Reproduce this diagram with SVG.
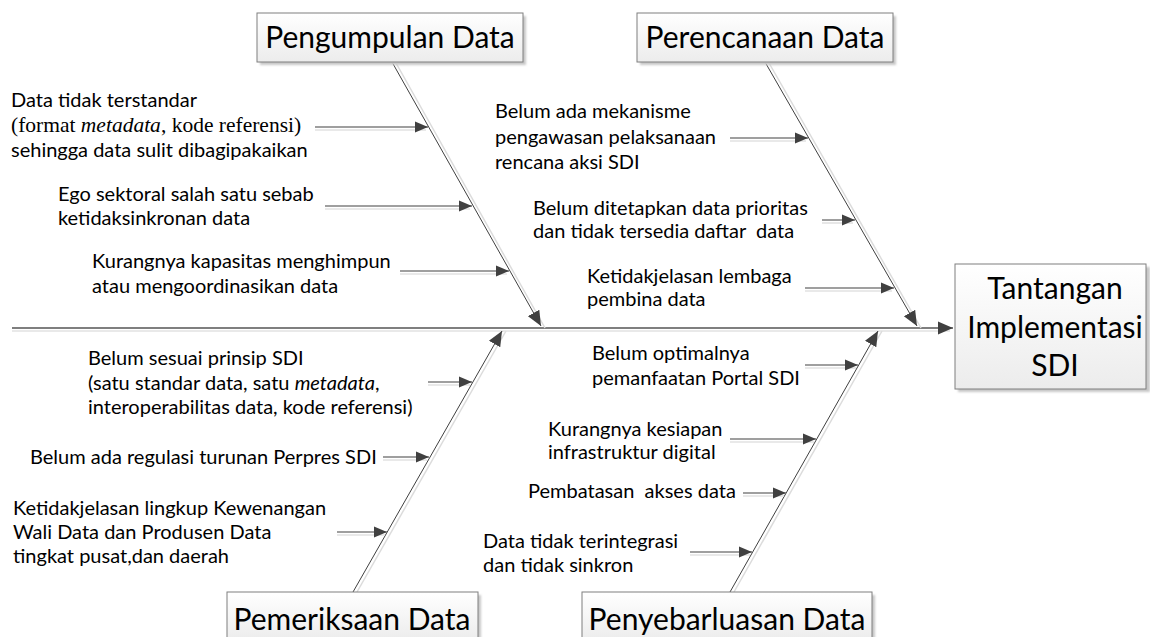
<svg xmlns="http://www.w3.org/2000/svg" width="1150" height="637" viewBox="0 0 1150 637">
<style>
.t{font-family:Lato,"Open Sans","Liberation Sans",sans-serif;font-size:20px;fill:#000}
.s{font-family:"Liberation Serif","Times New Roman",serif;font-size:21.5px;fill:#000}
.c{font-family:Lato,"Open Sans","Liberation Sans",sans-serif;font-size:30px;fill:#000;text-anchor:middle}
.box{fill:url(#g);stroke:#7f7f7f;stroke-width:1}
.sh{fill:#c8c8c8;filter:url(#blur)}
.bone{stroke:#404040;stroke-width:1;fill:none}
.boneS{stroke:#dcdcdc;stroke-width:1.5;fill:none}
.arr{stroke:#7f7f7f;stroke-width:1.6;fill:none}
.arrS{stroke:#e2e2e2;stroke-width:1.6;fill:none}
</style>
<defs>
<linearGradient id="g" x1="0" y1="0" x2="0" y2="1"><stop offset="0" stop-color="#ffffff"/><stop offset="1" stop-color="#ececec"/></linearGradient>
<filter id="blur" x="-10%" y="-10%" width="120%" height="120%"><feGaussianBlur stdDeviation="1.2"/></filter>
<marker id="ah" markerUnits="userSpaceOnUse" markerWidth="14" markerHeight="12" refX="13" refY="6" orient="auto"><path d="M0,0.5 L13,6 L0,11.5 z" fill="#404040"/></marker>
<marker id="bh" markerUnits="userSpaceOnUse" markerWidth="16" markerHeight="14" refX="15" refY="7" orient="auto"><path d="M0,0.5 L15,7 L0,13.5 z" fill="#404040"/></marker>
</defs>

<g id="connectors">
<line class="arrS" x1="12" y1="331" x2="950" y2="331"/>
<line x1="12" y1="328" x2="953" y2="328" stroke="#7f7f7f" stroke-width="2" marker-end="url(#bh)"/>
<line class="boneS" x1="396" y1="63" x2="545" y2="328"/>
<line class="bone" x1="392" y1="62" x2="541" y2="326" marker-end="url(#bh)"/>
<line class="boneS" x1="769" y1="63" x2="921" y2="328"/>
<line class="bone" x1="765" y1="62" x2="917" y2="326" marker-end="url(#bh)"/>
<line class="boneS" x1="357" y1="592" x2="506" y2="331"/>
<line class="bone" x1="353" y1="592" x2="502" y2="331" marker-end="url(#bh)"/>
<line class="boneS" x1="734" y1="592" x2="882" y2="331"/>
<line class="bone" x1="730" y1="592" x2="878" y2="331" marker-end="url(#bh)"/>
<g class="arrS">
<line x1="315" y1="130" x2="426" y2="130"/>
<line x1="325" y1="209" x2="470" y2="209"/>
<line x1="400" y1="274" x2="507" y2="274"/>
<line x1="730" y1="141" x2="806" y2="141"/>
<line x1="822" y1="223" x2="853" y2="223"/>
<line x1="805" y1="291" x2="892" y2="291"/>
<line x1="428" y1="385" x2="470" y2="385"/>
<line x1="383" y1="460" x2="427" y2="460"/>
<line x1="337" y1="535" x2="385" y2="535"/>
<line x1="805" y1="368" x2="856" y2="368"/>
<line x1="730" y1="442" x2="814" y2="442"/>
<line x1="743" y1="496" x2="784" y2="496"/>
<line x1="690" y1="555" x2="750" y2="555"/>
</g>
<g class="arr" marker-end="url(#ah)">
<line x1="315" y1="127" x2="428" y2="127"/>
<line x1="325" y1="206" x2="472" y2="206"/>
<line x1="400" y1="271" x2="509" y2="271"/>
<line x1="730" y1="138" x2="808" y2="138"/>
<line x1="822" y1="220" x2="855" y2="220"/>
<line x1="805" y1="288" x2="894" y2="288"/>
<line x1="428" y1="382" x2="472" y2="382"/>
<line x1="383" y1="457" x2="429" y2="457"/>
<line x1="337" y1="532" x2="387" y2="532"/>
<line x1="805" y1="365" x2="858" y2="365"/>
<line x1="730" y1="439" x2="816" y2="439"/>
<line x1="743" y1="493" x2="786" y2="493"/>
<line x1="690" y1="552" x2="752" y2="552"/>
</g>
</g>

<g id="effect">
<rect class="sh" x="958" y="267" width="192" height="125"/>
<rect class="box" x="955" y="264" width="191" height="125"/>
<text class="c" x="1055" y="299" font-size="32">Tantangan</text>
<text class="c" x="1055" y="338" font-size="32">Implementasi</text>
<text class="c" x="1055" y="376" font-size="32">SDI</text>
</g>

<g id="cat-pengumpulan">
<rect class="sh" x="260" y="16" width="266" height="49"/>
<rect class="box" x="257" y="13" width="266" height="49"/>
<text class="c" x="390" y="48">Pengumpulan Data</text>
</g>
<g id="cat-perencanaan">
<rect class="sh" x="640" y="16" width="256" height="49"/>
<rect class="box" x="637" y="13" width="256" height="49"/>
<text class="c" x="765" y="48">Perencanaan Data</text>
</g>
<g id="cat-pemeriksaan">
<rect class="sh" x="230" y="595" width="251" height="49"/>
<rect class="box" x="227" y="592" width="251" height="49"/>
<text class="c" x="352" y="630">Pemeriksaan Data</text>
</g>
<g id="cat-penyebarluasan">
<rect class="sh" x="585" y="595" width="290" height="49"/>
<rect class="box" x="582" y="592" width="290" height="49"/>
<text class="c" x="727" y="630">Penyebarluasan Data</text>
</g>

<g id="cause-1">
<text class="t" x="11" y="107">Data tidak terstandar</text>
<text class="s" x="11" y="132">(format <tspan font-style="italic">metadata</tspan>, kode referensi)</text>
<text class="t" x="11" y="157">sehingga data sulit dibagipakaikan</text>
</g>
<g id="cause-2">
<text class="t" x="58" y="201">Ego sektoral salah satu sebab</text>
<text class="t" x="58" y="225">ketidaksinkronan data</text>
</g>
<g id="cause-3">
<text class="t" x="92" y="268">Kurangnya kapasitas menghimpun</text>
<text class="t" x="92" y="293">atau mengoordinasikan data</text>
</g>
<g id="cause-4">
<text class="t" x="495" y="118">Belum ada mekanisme</text>
<text class="t" x="495" y="144">pengawasan pelaksanaan</text>
<text class="t" x="495" y="169">rencana aksi SDI</text>
</g>
<g id="cause-5">
<text class="t" x="533" y="215">Belum ditetapkan data prioritas</text>
<text class="t" x="533" y="238" xml:space="preserve">dan tidak tersedia daftar  data</text>
</g>
<g id="cause-6">
<text class="t" x="587" y="283">Ketidakjelasan lembaga</text>
<text class="t" x="587" y="306">pembina data</text>
</g>
<g id="cause-7">
<text class="t" x="88" y="365">Belum sesuai prinsip SDI</text>
<text class="t" x="88" y="390">(satu standar data, satu <tspan font-style="italic">metadata</tspan>,</text>
<text class="t" x="88" y="414">interoperabilitas data, kode referensi)</text>
</g>
<g id="cause-8">
<text class="t" x="30" y="464">Belum ada regulasi turunan Perpres SDI</text>
</g>
<g id="cause-9">
<text class="t" x="13" y="515">Ketidakjelasan lingkup Kewenangan</text>
<text class="t" x="13" y="539">Wali Data dan Produsen Data</text>
<text class="t" x="13" y="563">tingkat pusat,dan daerah</text>
</g>
<g id="cause-10">
<text class="t" x="592" y="360">Belum optimalnya</text>
<text class="t" x="592" y="385">pemanfaatan Portal SDI</text>
</g>
<g id="cause-11">
<text class="t" x="548" y="436">Kurangnya kesiapan</text>
<text class="t" x="548" y="459">infrastruktur digital</text>
</g>
<g id="cause-12">
<text class="t" x="528" y="498" xml:space="preserve">Pembatasan  akses data</text>
</g>
<g id="cause-13">
<text class="t" x="483" y="548">Data tidak terintegrasi</text>
<text class="t" x="483" y="572">dan tidak sinkron</text>
</g>
</svg>
